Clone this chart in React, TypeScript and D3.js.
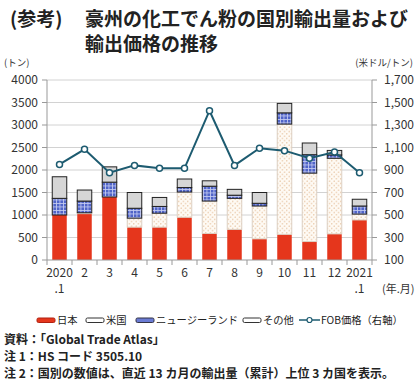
import React from "react";
import * as d3 from "d3";

const months = ["2020\n.1", "2", "3", "4", "5", "6", "7", "8", "9", "10", "11", "12", "2021\n.1"];
const japan = [1000, 1030, 1400, 730, 730, 950, 590, 680, 470, 570, 410, 580, 890];
const usa = [0, 20, 0, 200, 310, 560, 720, 690, 730, 2450, 1520, 1680, 130];
const nz = [370, 260, 330, 220, 150, 100, 330, 70, 60, 250, 410, 75, 180];
const other = [480, 245, 340, 350, 200, 190, 120, 130, 240, 210, 260, 100, 150];
const fob = [950, 1084, 876, 941, 915, 915, 1427, 941, 1093, 1072, 1004, 1060, 876];
const leftTicks = [0, 500, 1000, 1500, 2000, 2500, 3000, 3500, 4000];
const rightTicks = [100, 300, 500, 700, 900, 1100, 1300, 1500, 1700];

const FONT = "'Noto Sans CJK JP', 'Noto Sans', sans-serif";
const LINE = "#1d5b70";

export default function App() {
  const W = 420, H = 385;
  const x0 = 47, x1 = 372, yTop = 80, yBot = 260;
  const x = d3.scaleBand<number>().domain(d3.range(months.length)).range([x0, x1]).paddingInner(0.42).paddingOuter(0.21);
  const step = x.step();
  const yL = d3.scaleLinear().domain([0, 4000]).range([yBot, yTop]);
  const yR = d3.scaleLinear().domain([100, 1700]).range([yBot, yTop]);

  const series = [
    { key: "japan", vals: japan, fill: "#e5361c", stroke: "none" },
    { key: "usa", vals: usa, fill: "url(#dots)", stroke: "#dccfc2" },
    { key: "nz", vals: nz, fill: "url(#grid)", stroke: "#222" },
    { key: "other", vals: other, fill: "#d6d6d6", stroke: "#222" },
  ];

  const line = d3.line<number>().x((_, i) => (x(i) as number) + x.bandwidth() / 2).y((d) => yR(d));

  const legend = [
    { label: "日本", x: 37, type: "rect", fill: "#e5361c", stroke: "#b02010" },
    { label: "米国", x: 86, type: "rect", fill: "#fff", stroke: "#333" },
    { label: "ニュージーランド", x: 136, type: "rect", fill: "#6a7bd4", stroke: "#334" },
    { label: "その他", x: 243, type: "rect", fill: "#fff", stroke: "#333" },
    { label: "FOB価格（右軸）", x: 299, type: "line" },
  ];

  return (
    <svg width={W} height={H} style={{ position: "absolute", left: 0, top: 0, background: "#fff" }} fontFamily={FONT}>
      <defs>
        <pattern id="dots" width="4.5" height="4.5" patternUnits="userSpaceOnUse">
          <rect width="4.5" height="4.5" fill="#fefaf4" />
          <circle cx="1.1" cy="1.1" r="0.6" fill="#dfae80" />
          <circle cx="3.35" cy="3.35" r="0.6" fill="#dfae80" />
        </pattern>
        <pattern id="grid" width="3.5" height="3.5" patternUnits="userSpaceOnUse">
          <rect width="3.5" height="3.5" fill="#5064c8" />
          <rect width="3.5" height="0.8" fill="#c6cdf2" />
          <rect width="0.8" height="3.5" fill="#c6cdf2" />
        </pattern>
      </defs>

      <text x={10} y={26} fontSize={19} fontWeight={700} fill="#222">(参考)</text>
      <text x={85} y={26} fontSize={19} fontWeight={700} fill="#222">豪州の化工でん粉の国別輸出量および</text>
      <text x={85} y={51} fontSize={19} fontWeight={700} fill="#222">輸出価格の推移</text>

      <text x={4} y={66} fontSize={9.5} fill="#333">(トン)</text>
      <text x={413} y={66} fontSize={9.5} fill="#333" textAnchor="end">(米ドル/トン)</text>

      {leftTicks.map((t) => (
        <g key={"g" + t}>
          {t > 0 && <line x1={x0} x2={x1} y1={yL(t)} y2={yL(t)} stroke="#d2d2d2" strokeWidth={1} />}
          <line x1={x0 - 5} x2={x0} y1={yL(t)} y2={yL(t)} stroke="#999" />
          <text x={38} y={yL(t) + 4} fontSize={12} textAnchor="end" fill="#333">{t}</text>
        </g>
      ))}
      {rightTicks.map((t) => (
        <g key={"r" + t}>
          <line x1={x1} x2={x1 + 5} y1={yR(t)} y2={yR(t)} stroke="#999" />
          <text x={384} y={yR(t) + 4} fontSize={12} fill="#333">{t.toLocaleString("en-US")}</text>
        </g>
      ))}

      {months.map((m, i) => {
        const cx = (x(i) as number) + x.bandwidth() / 2;
        let acc = 0;
        return (
          <g key={"b" + i}>
            {series.map((s) => {
              const v = s.vals[i];
              const y0 = yL(acc);
              acc += v;
              const y1 = yL(acc);
              if (v <= 0) return null;
              return (
                <rect key={s.key} x={x(i)} y={y1} width={x.bandwidth()} height={y0 - y1} fill={s.fill}
                  stroke={s.stroke} strokeWidth={s.stroke === "none" ? 0 : 1} />
              );
            })}
            {m.split("\n").map((part, j) => (
              <text key={j} x={cx} y={277 + j * 16} fontSize={12} textAnchor="middle" fill="#333">{part}</text>
            ))}
          </g>
        );
      })}

      <line x1={x0} x2={x0} y1={yTop} y2={yBot} stroke="#999" />
      <line x1={x1} x2={x1} y1={yTop} y2={yBot} stroke="#999" />
      <line x1={x0} x2={x1} y1={yBot} y2={yBot} stroke="#999" />
      {d3.range(months.length + 1).map((i) => (
        <line key={"xt" + i} x1={x0 + i * step} x2={x0 + i * step} y1={yBot} y2={yBot + 5} stroke="#999" />
      ))}

      <path d={line(fob) || ""} fill="none" stroke={LINE} strokeWidth={2} />
      {fob.map((v, i) => (
        <circle key={"p" + i} cx={(x(i) as number) + x.bandwidth() / 2} cy={yR(v)} r={3} fill="#fff" stroke={LINE} strokeWidth={1.5} />
      ))}

      <text x={382} y={293} fontSize={11} fill="#333">(年.月)</text>

      {legend.map((l) => (
        <g key={l.label}>
          {l.type === "rect" ? (
            <rect x={l.x} y={318} width={18} height={4.5} rx={1.5} fill={l.fill} stroke={l.stroke} strokeWidth={1} />
          ) : (
            <g>
              <line x1={l.x} x2={l.x + 21} y1={320} y2={320} stroke={LINE} strokeWidth={1.5} />
              <circle cx={l.x + 10.5} cy={320} r={2.5} fill="#fff" stroke={LINE} strokeWidth={1.2} />
            </g>
          )}
          <text x={l.x + (l.type === "rect" ? 20 : 22)} y={324} fontSize={10.3} fill="#222">{l.label}</text>
        </g>
      ))}

      <text x={4} y={344} fontSize={12} fontWeight={700} fill="#222">資料：「Global Trade Atlas」</text>
      <text x={4} y={361} fontSize={12} fontWeight={700} fill="#222">注 1：HS コード 3505.10</text>
      <text x={4} y={378} fontSize={12} fontWeight={700} fill="#222">注 2：国別の数値は、直近 13 カ月の輸出量（累計）上位 3 カ国を表示。</text>
    </svg>
  );
}
